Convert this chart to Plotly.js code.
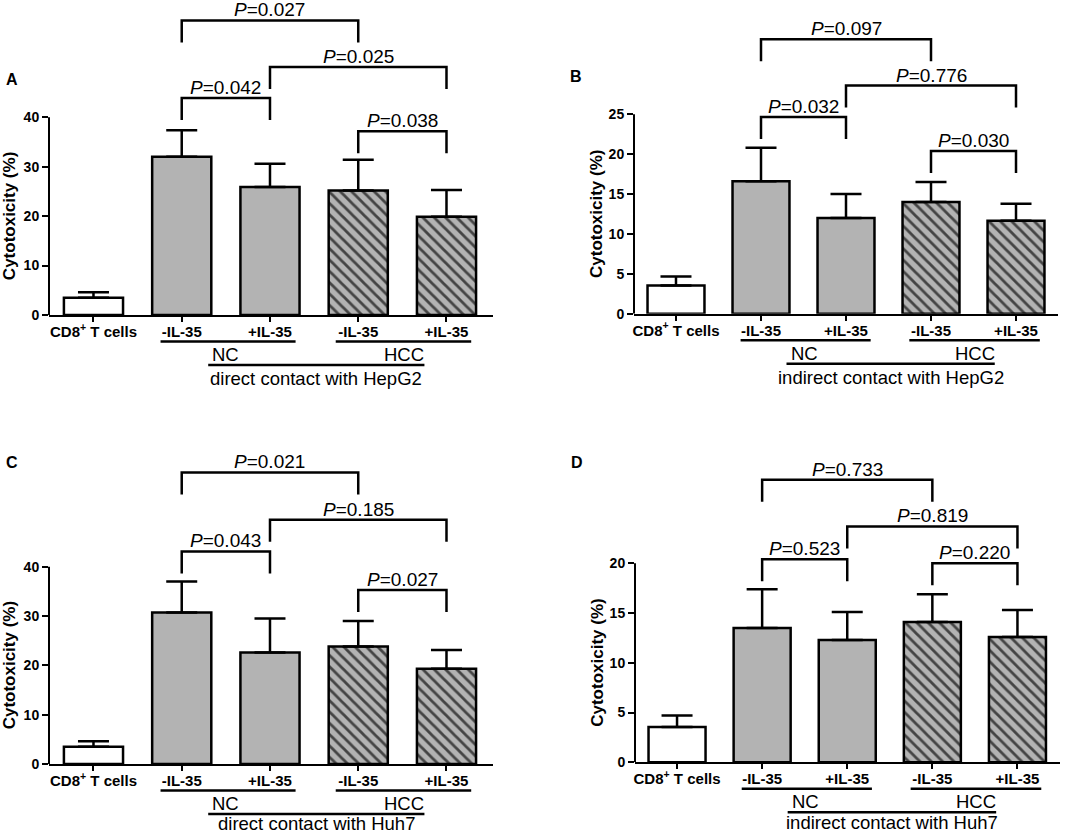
<!DOCTYPE html>
<html><head><meta charset="utf-8">
<script src="https://cdn.plot.ly/plotly-3.0.1.min.js"></script>
<style>html,body{margin:0;padding:0;background:#fff}</style>
</head><body><div id="chart" style="width:1084px;height:836px"></div>
<script>
// ---------------- data ----------------
const categories = ['CD8<sup>+</sup> T cells', '-IL-35', '+IL-35', '-IL-35', '+IL-35'];
const groupLabels = ['NC', 'HCC'];
const panelLetters = ['A', 'B', 'C', 'D'];
const contactTitles = ['direct contact with HepG2', 'indirect contact with HepG2',
                       'direct contact with Huh7', 'indirect contact with Huh7'];
const yTitle = 'Cytotoxicity (%)';

const meansA = [3.5, 32.0, 25.9, 25.2, 19.9];
const errA   = [1.1, 5.4, 4.7, 6.2, 5.4];
const meansB = [3.55, 16.6, 12.0, 14.0, 11.65];
const errB   = [1.1, 4.2, 3.0, 2.5, 2.15];
const meansC = [3.5, 30.7, 22.6, 23.8, 19.3];
const errC   = [1.1, 6.3, 6.9, 5.2, 3.8];
const meansD = [3.55, 13.5, 12.3, 14.1, 12.6];
const errD   = [1.15, 3.9, 2.8, 2.8, 2.7];

const yTicksA = [0, 10, 20, 30, 40];
const yTicksB = [0, 5, 10, 15, 20, 25];
const yTicksC = [0, 10, 20, 30, 40];
const yTicksD = [0, 5, 10, 15, 20];

// comparisons: bar index pairs, P values, bracket heights (data units)
const pairs = [[1, 3], [2, 4], [1, 2], [3, 4]];
const pA = ['0.027', '0.025', '0.042', '0.038'];
const levelsA = [59.6, 50.2, 43.9, 37.2];
const pB = ['0.097', '0.776', '0.032', '0.030'];
const levelsB = [34.4, 28.6, 24.65, 20.4];
const pC = ['0.021', '0.185', '0.043', '0.027'];
const levelsC = [59.1, 49.5, 43.1, 35.3];
const pD = ['0.733', '0.819', '0.523', '0.220'];
const levelsD = [28.4, 23.7, 20.4, 20.0];

// ---------------- layout ----------------
const W = 1084, H = 836;
const FONT = 'Liberation Sans, Arial, Helvetica, sans-serif';
const frames = [
  {left: 49,  right: 493,  y0: 315,   yTick: 117.3, top: 2,   xr: [-0.504, 4.527], titleX: 9,   letterX: 4,   letterY: 79,  bottomOff: 63.5},
  {left: 634, right: 1058, y0: 313.7, yTick: 114.3, top: 2,   xr: [-0.494, 4.494], titleX: 597, letterX: 568, letterY: 76,  bottomOff: 63.5},
  {left: 49,  right: 493,  y0: 764,   yTick: 566.7, top: 420, xr: [-0.504, 4.527], titleX: 9,   letterX: 4,   letterY: 462, bottomOff: 59.5},
  {left: 635, right: 1060, y0: 762.3, yTick: 563.3, top: 420, xr: [-0.494, 4.50],  titleX: 598, letterX: 569, letterY: 462, bottomOff: 60.5}
];
const panels = [
  {means: meansA, errs: errA, p: pA, levels: levelsA, yticks: yTicksA},
  {means: meansB, errs: errB, p: pB, levels: levelsB, yticks: yTicksB},
  {means: meansC, errs: errC, p: pC, levels: levelsC, yticks: yTicksC},
  {means: meansD, errs: errD, p: pD, levels: levelsD, yticks: yTicksD}
];
const groupSpans = [[0.76, 2.29], [2.745, 4.28]];
const outerSpan = [1.30, 3.75];

const barColors = ['#ffffff', '#b3b3b3', '#b3b3b3', '#b3b3b3', '#b3b3b3'];
const barPatterns = ['', '', '', '\\', '\\'];

const data = [];
const layout = {
  width: W, height: H,
  margin: {l: 0, r: 0, t: 0, b: 0},
  paper_bgcolor: '#fff', plot_bgcolor: 'rgba(0,0,0,0)',
  showlegend: false,
  font: {family: FONT, color: '#000'},
  shapes: [], annotations: []
};

panels.forEach((pn, i) => {
  const f = frames[i];
  const xid = i === 0 ? 'x' : 'x' + (i + 1);
  const yid = i === 0 ? 'y' : 'y' + (i + 1);
  const topTick = pn.yticks[pn.yticks.length - 1];
  const pxPerUnit = (f.y0 - f.yTick) / topTick;
  const ymax = (f.y0 - f.top) / pxPerUnit;
  const drop = 22 / pxPerUnit;
  const py = off => 1 - (f.y0 + off) / H;

  data.push({
    type: 'bar', x: [0, 1, 2, 3, 4], y: pn.means, xaxis: xid, yaxis: yid,
    width: 0.67,
    marker: {
      color: barColors,
      line: {color: '#000', width: 2.5},
      pattern: {shape: barPatterns, fgcolor: '#000', fgopacity: 1,
                size: 8, solidity: 0.35, fillmode: 'overlay'}
    },
    error_y: {type: 'data', symmetric: false, array: pn.errs, arrayminus: pn.errs.map(() => 0),
              color: '#000', thickness: 2.5, width: 15.5},
    hoverinfo: 'none'
  });

  const xkey = i === 0 ? 'xaxis' : 'xaxis' + (i + 1);
  const ykey = i === 0 ? 'yaxis' : 'yaxis' + (i + 1);
  layout[xkey] = {
    domain: [f.left / W, f.right / W], range: f.xr, anchor: yid,
    showline: true, linewidth: 2, linecolor: '#000',
    ticks: 'outside', ticklen: 5, tickwidth: 2, tickcolor: '#000',
    ticklabelstandoff: -3,
    tickvals: [0, 1, 2, 3, 4], ticktext: categories,
    tickfont: {family: FONT, size: 15, color: '#000', weight: 'bold'},
    showgrid: false, zeroline: false, fixedrange: true
  };
  layout[ykey] = {
    domain: [1 - f.y0 / H, 1 - f.top / H], range: [0, ymax], anchor: xid,
    showline: false, ticks: 'outside', ticklen: 6, tickwidth: 2, tickcolor: '#000',
    tickvals: pn.yticks, ticktext: pn.yticks.map(String),
    tickfont: {family: FONT, size: 14, color: '#000', weight: 'bold'},
    showgrid: false, zeroline: false, fixedrange: true
  };

  // y axis line, only up to the top tick
  layout.shapes.push({type: 'line', xref: 'paper', yref: yid, x0: f.left / W, x1: f.left / W,
                      y0: 0, y1: topTick, line: {color: '#000', width: 2}});

  // significance brackets
  pairs.forEach((pr, k) => {
    const L = pn.levels[k];
    const [a, b] = pr;
    layout.shapes.push({type: 'path', xref: xid, yref: yid,
      path: `M ${a},${L - drop} L ${a},${L} L ${b},${L} L ${b},${L - drop}`,
      line: {color: '#000', width: 2.5}});
    layout.annotations.push({xref: xid, yref: yid, x: (a + b) / 2, y: L, yanchor: 'bottom', yshift: -2,
      text: '<i>P</i>=' + pn.p[k], showarrow: false, font: {family: FONT, size: 19, color: '#000'}});
  });

  // group underlines
  groupSpans.forEach(sp => {
    layout.shapes.push({type: 'line', xref: xid, yref: 'paper', x0: sp[0], x1: sp[1],
      y0: py(26.5), y1: py(26.5), line: {color: '#000', width: 2.5}});
  });
  layout.shapes.push({type: 'line', xref: xid, yref: 'paper', x0: outerSpan[0], x1: outerSpan[1],
    y0: py(50), y1: py(50), line: {color: '#000', width: 2.5}});
  layout.annotations.push({xref: xid, yref: 'paper', x: outerSpan[0], xanchor: 'left', xshift: 2,
    y: py(39.5), yanchor: 'middle', text: groupLabels[0], showarrow: false,
    font: {family: FONT, size: 18.5, color: '#000'}});
  layout.annotations.push({xref: xid, yref: 'paper', x: outerSpan[1], xanchor: 'right', xshift: 2,
    y: py(39.5), yanchor: 'middle', text: groupLabels[1], showarrow: false,
    font: {family: FONT, size: 18.5, color: '#000'}});
  layout.annotations.push({xref: xid, yref: 'paper', x: (outerSpan[0] + outerSpan[1]) / 2, xanchor: 'center',
    y: py(f.bottomOff), yanchor: 'middle', text: contactTitles[i], showarrow: false,
    font: {family: FONT, size: 18.5, color: '#000'}});

  // y axis title
  layout.annotations.push({xref: 'paper', yref: 'paper', x: f.titleX / W, xanchor: 'center',
    y: 1 - ((f.y0 + f.yTick) / 2) / H, yanchor: 'middle', textangle: -90, text: yTitle,
    showarrow: false, font: {family: FONT, size: 17, color: '#000', weight: 'bold'}});

  // panel letter
  layout.annotations.push({xref: 'paper', yref: 'paper', x: f.letterX / W, xanchor: 'left',
    y: 1 - f.letterY / H, yanchor: 'middle', text: panelLetters[i], showarrow: false,
    font: {family: FONT, size: 16, color: '#000', weight: 'bold'}});
});

Plotly.newPlot('chart', data, layout, {staticPlot: true, displayModeBar: false});
</script>
</body></html>
